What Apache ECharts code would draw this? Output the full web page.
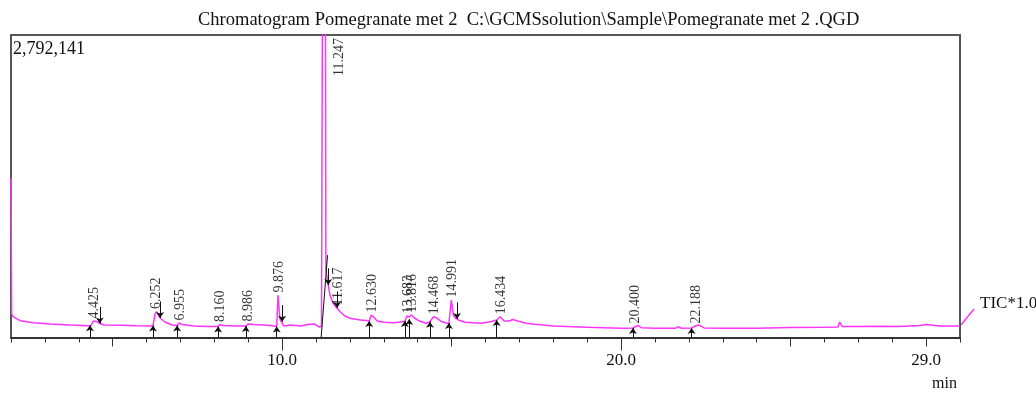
<!DOCTYPE html>
<html>
<head>
<meta charset="utf-8">
<script src="https://cdn.jsdelivr.net/npm/echarts@6/dist/echarts.min.js"></script>
<style>
  html, body { margin: 0; padding: 0; background: #ffffff; }
  #chart { width: 1036px; height: 396px; }
</style>
</head>
<body>
<div id="chart"></div>
<script>
// Total ion chromatogram: retention time (min) and intensity (counts)
const traceTime = [
  2.00, 2.02, 2.06, 2.27, 2.65, 3.15, 3.74, 4.27, 4.36, 4.43, 4.52, 4.62, 4.75,
  5.22, 5.70, 6.10, 6.19, 6.25, 6.29, 6.33, 6.40, 6.54, 6.75, 6.90, 6.96, 7.05,
  7.40, 7.80, 8.10, 8.16, 8.25, 8.60, 8.93, 8.99, 9.15, 9.45, 9.70, 9.84, 9.876,
  9.93, 9.97, 10.05, 10.25, 10.55, 10.75, 10.95, 11.08, 11.16, 11.247, 11.29,
  11.36, 11.41, 11.50, 11.61, 11.71, 11.85, 12.00, 12.30, 12.50, 12.57, 12.63,
  12.70, 12.80, 13.00, 13.30, 13.55, 13.62, 13.683, 13.75, 13.816, 13.90, 14.05,
  14.25, 14.36, 14.468, 14.58, 14.70, 14.85, 14.92, 14.991, 15.05, 15.12, 15.20,
  15.40, 15.85, 16.15, 16.33, 16.434, 16.55, 16.70, 16.80, 16.95, 17.20, 17.45,
  18.00, 19.00, 20.00, 20.35, 20.40, 20.50, 20.60, 21.00, 21.60, 21.68, 21.78,
  22.08, 22.188, 22.30, 22.45, 23.00, 24.00, 25.00, 26.00, 26.40, 26.45, 26.52,
  27.00, 27.60, 28.20, 28.80, 29.00, 29.40, 30.00
];
const traceSignal = [
  1470000, 215000, 192000, 155000, 137000, 125000, 115000, 109000, 111000, 152000, 148000, 129000, 115000,
  113000, 108000, 106000, 111000, 217000, 240000, 217000, 180000, 143000, 115000, 111000, 134000, 120000,
  106000, 102000, 102000, 120000, 111000, 106000, 106000, 125000, 120000, 115000, 108000, 102000, 392000,
  180000, 146000, 106000, 115000, 106000, 120000, 125000, 97000, 102000, 9000000, 623000,
  485000, 392000, 318000, 272000, 238000, 198000, 177000, 162000, 157000, 152000, 208000,
  189000, 152000, 141000, 137000, 146000, 152000, 198000, 189000, 208000, 180000, 152000,
  131000, 146000, 192000, 175000, 148000, 131000, 134000, 346000, 208000, 177000, 162000,
  140000, 131000, 146000, 162000, 192000, 152000, 152000, 166000, 152000, 131000, 122000,
  106000, 94000, 85000, 88000, 106000, 111000, 90000, 85000, 85000, 100000, 85000,
  88000, 106000, 115000, 88000, 85000, 85000, 92000, 94000, 97000, 143000, 102000,
  102000, 104000, 102000, 111000, 120000, 106000, 106000
];

// Integrated peaks: retention time and apex intensity
const peakTimes = [4.425, 6.252, 6.955, 8.160, 8.986, 9.876, 11.247, 11.617,
                   12.630, 13.683, 13.816, 14.468, 14.991, 16.434, 20.400, 22.188];
const peakApex = [152000, 240000, 134000, 120000, 125000, 392000, 9000000, 272000,
                  208000, 198000, 208000, 192000, 346000, 192000, 106000, 106000];

// Peak start markers (rising from the time axis) and peak end markers
const peakStartTimes = [4.33, 6.19, 6.90, 8.11, 8.93, 9.84, 12.57, 13.62, 13.75, 14.36, 14.92, 16.33, 20.35, 22.08];
const peakStartLevels = [112000, 111000, 111000, 102000, 106000, 102000, 152000, 152000, 170000, 146000, 134000, 162000, 88000, 88000];
const peakEndTimes = [4.62, 6.40, 10.00, 11.36, 11.62, 15.16];
const peakEndLevels = [129000, 180000, 146000, 485000, 272000, 170000];
// Drop line of the main peak from the axis to its tail
const mainPeakDrop = [[11.15, 0], [11.34, 760000]];

const xTickLabels = [10, 20, 29];
const xMajorTicks = [10, 20];
const xMediumTicks = [5, 15, 25, 29];
const yMax = 2792141;
const xMin = 2;
const xMax = 30;

const SERIF = '"Liberation Serif", "DejaVu Serif", serif';
const TRACE = '#ff33ff';
const INK = '#111111';

const chart = echarts.init(document.getElementById('chart'), null, { renderer: 'canvas' });

const labelData = peakTimes.map((t, i) => {
  const offScale = peakApex[i] > yMax;
  const item = { value: [t, Math.min(peakApex[i], yMax)] };
  if (offScale) {
    item.label = { position: 'inside', align: 'right', verticalAlign: 'middle', offset: [-3, 15] };
  }
  return item;
});

const downLen = yMax * 0.055;

const option = {
  animation: false,
  backgroundColor: '#ffffff',
  title: {
    text: 'Chromatogram Pomegranate met 2  C:\\GCMSsolution\\Sample\\Pomegranate met 2 .QGD',
    left: 198,
    top: 11,
    padding: 0,
    textStyle: { fontFamily: SERIF, fontSize: 18.5, fontWeight: 'normal', color: INK }
  },
  grid: { left: 11, right: 76, top: 35, bottom: 58.5, containLabel: false },
  xAxis: [
    {
      type: 'value', min: xMin, max: xMax, interval: 1, position: 'bottom',
      axisLine: { show: true, onZero: false, lineStyle: { color: '#333', width: 2 } },
      axisTick: { show: true, length: 5, lineStyle: { color: '#333', width: 1 } },
      axisLabel: {
        customValues: xTickLabels, formatter: v => v.toFixed(1), margin: 15,
        fontFamily: SERIF, fontSize: 17, color: INK
      },
      splitLine: { show: false }
    },
    {
      type: 'value', min: xMin, max: xMax, position: 'bottom',
      axisLine: { show: false, onZero: false },
      axisTick: { show: true, customValues: xMediumTicks, length: 9, lineStyle: { color: '#333', width: 1 } },
      axisLabel: { show: false }, splitLine: { show: false }
    },
    {
      type: 'value', min: xMin, max: xMax, position: 'bottom',
      axisLine: { show: false, onZero: false },
      axisTick: { show: true, customValues: xMajorTicks, length: 13, lineStyle: { color: '#333', width: 1 } },
      axisLabel: { show: false }, splitLine: { show: false }
    },
    {
      type: 'value', min: xMin, max: xMax, position: 'top',
      axisLine: { show: true, onZero: false, lineStyle: { color: '#555', width: 2 } },
      axisTick: { show: false }, axisLabel: { show: false }, splitLine: { show: false }
    }
  ],
  yAxis: [
    {
      type: 'value', min: 0, max: yMax, position: 'left',
      axisLine: { show: true, onZero: false, lineStyle: { color: '#555', width: 2 } },
      axisTick: { show: false }, axisLabel: { show: false }, splitLine: { show: false }
    },
    {
      type: 'value', min: 0, max: yMax, position: 'right',
      axisLine: { show: true, onZero: false, lineStyle: { color: '#555', width: 2 } },
      axisTick: { show: false }, axisLabel: { show: false }, splitLine: { show: false }
    }
  ],
  series: [
    {
      name: 'TIC',
      type: 'line',
      data: traceTime.map((t, i) => [t, traceSignal[i]]),
      showSymbol: false,
      clip: true,
      lineStyle: { color: TRACE, width: 1.5 },
      z: 2
    },
    {
      name: 'peak start',
      type: 'lines',
      coordinateSystem: 'cartesian2d',
      symbol: ['none', 'arrow'],
      symbolSize: 6,
      lineStyle: { color: INK, width: 1, opacity: 1, curveness: 0 },
      data: peakStartTimes.map((t, i) => ({ coords: [[t, 0], [t, peakStartLevels[i]]] })),
      silent: true,
      z: 3
    },
    {
      name: 'peak end',
      type: 'lines',
      coordinateSystem: 'cartesian2d',
      symbol: ['none', 'arrow'],
      symbolSize: 6,
      lineStyle: { color: INK, width: 1, opacity: 1, curveness: 0 },
      data: peakEndTimes.map((t, i) => ({ coords: [[t, peakEndLevels[i] + downLen], [t, peakEndLevels[i]]] })),
      silent: true,
      z: 3
    },
    {
      name: 'drop line',
      type: 'lines',
      coordinateSystem: 'cartesian2d',
      symbol: ['none', 'none'],
      lineStyle: { color: INK, width: 1, opacity: 1, curveness: 0 },
      data: [{ coords: mainPeakDrop }],
      silent: true,
      z: 3
    },
    {
      name: 'peak labels',
      type: 'scatter',
      data: labelData,
      symbol: 'circle',
      symbolSize: 1,
      itemStyle: { color: 'rgba(0,0,0,0)' },
      clip: false,
      label: {
        show: true,
        position: 'top',
        distance: 1,
        rotate: 90,
        align: 'left',
        verticalAlign: 'middle',
        offset: [1, 1],
        formatter: p => p.value[0].toFixed(3),
        fontFamily: SERIF,
        fontSize: 14,
        color: '#000'
      },
      silent: true,
      z: 4
    }
  ],
  graphic: [
    {
      type: 'text', left: 13, top: 40,
      style: { text: '2,792,141', font: '18px ' + SERIF, fill: INK }
    },
    {
      type: 'line', silent: true,
      shape: { x1: 960, y1: 326, x2: 974, y2: 309 },
      style: { stroke: TRACE, lineWidth: 1.5 }
    },
    {
      type: 'text', left: 980, top: 295,
      style: { text: 'TIC*1.00', font: '17px ' + SERIF, fill: INK }
    },
    {
      type: 'text', left: 932, top: 376,
      style: { text: 'min', font: '16px ' + SERIF, fill: INK }
    }
  ]
};

chart.setOption(option);
</script>
</body>
</html>
